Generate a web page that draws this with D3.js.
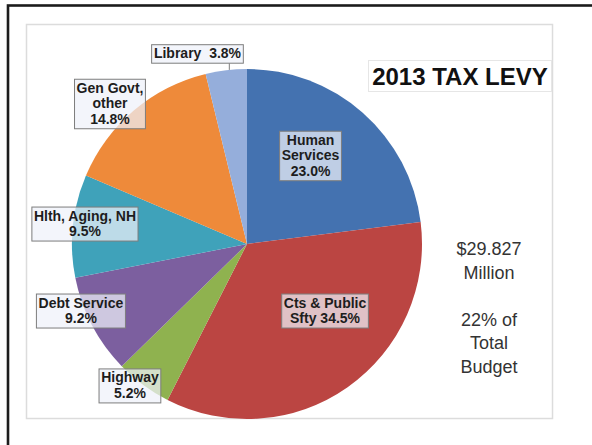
<!DOCTYPE html>
<html>
<head>
<meta charset="utf-8">
<script src="https://cdn.jsdelivr.net/npm/d3@7"></script>
<style>
  html, body { margin: 0; padding: 0; background: #fff; }
  svg { display: block; }
  text { font-family: "Liberation Sans", Arial, sans-serif; }
</style>
</head>
<body>
<svg id="chart" width="592" height="445"></svg>
<script>
// Budget shares of the 2013 tax levy, clockwise from 12 o'clock
const categories = ["Human Services", "Cts & Public Sfty", "Highway", "Debt Service",
                    "Hlth, Aging, NH", "Gen Govt, other", "Library"];
const shares = [23.0, 34.5, 5.2, 9.2, 9.5, 14.8, 3.8];
// Label text per slice; "{v}" is replaced by the formatted share
const labelLines = [
  ["Human", "Services", "{v}"],
  ["Cts & Public", "Sfty {v}"],
  ["Highway", "{v}"],
  ["Debt Service", "{v}"],
  ["Hlth, Aging, NH", "{v}"],
  ["Gen Govt,", "other", "{v}"],
  ["Library  {v}"]
];
const sliceColors = ["#4472b0", "#bb4542", "#8fb24f", "#7c5f9f", "#3fa2ba", "#ee8a3a", "#95aedb"];
const titleText = "2013 TAX LEVY";
const noteLines = ["$29.827", "Million", "", "22% of", "Total", "Budget"];

// Label box centres, in units of the pie radius relative to its centre
const labelPlacement = [
  [0.363, -0.503], [0.446, 0.383], [-0.669, 0.811], [-0.949, 0.383],
  [-0.926, -0.114], [-0.783, -0.80], [-0.283, -1.086]
];
const leaderSlices = ["Library"];

const svg = d3.select("#chart");
const cx = 247, cy = 244, radius = 175;

// outer frame
svg.append("rect")
  .attr("x", 8).attr("y", 5.5).attr("width", 620).attr("height", 480)
  .attr("fill", "none").attr("stroke", "#1c1c1c").attr("stroke-width", 2.6);

// plot area
svg.append("rect")
  .attr("x", 26.5).attr("y", 24.5).attr("width", 526).attr("height", 394)
  .attr("fill", "#fff").attr("stroke", "#dcdcdc").attr("stroke-width", 1.5);

const data = categories.map((c, i) => ({ name: c, value: shares[i], color: sliceColors[i],
  lines: labelLines[i], place: labelPlacement[i] }));

const pie = d3.pie().sort(null).value(d => d.value);
const arc = d3.arc().innerRadius(0).outerRadius(radius);
const arcs = pie(data);

const g = svg.append("g").attr("transform", `translate(${cx},${cy})`);
g.selectAll("path.slice").data(arcs).join("path")
  .attr("class", "slice")
  .attr("d", arc)
  .attr("fill", d => d.data.color);

const fmt = d3.format(".1f");
const fontSize = 14, lineH = 15.5;

// data labels
arcs.forEach(a => {
  const d = a.data;
  const lx = d.place[0] * radius, ly = d.place[1] * radius;
  const lines = d.lines.map(s => s.replace("{v}", fmt(d.value) + "%"));
  const lg = g.append("g").attr("class", "label");
  const box = lg.append("rect");
  const txt = lg.append("text")
    .attr("text-anchor", "middle")
    .attr("font-size", fontSize).attr("font-weight", "bold")
    .attr("fill", "#1d1d1d")
    .attr("xml:space", "preserve")
    .style("white-space", "pre");
  const h = lines.length * lineH + 3;
  lines.forEach((s, i) => {
    txt.append("tspan")
      .attr("x", lx)
      .attr("y", ly - h / 2 + 1.5 + lineH * (i + 1) - 3.5)
      .text(s);
  });
  const w = txt.node().getBBox().width + 4;
  box.attr("x", lx - w / 2).attr("y", ly - h / 2).attr("width", w).attr("height", h)
    .attr("fill", "rgba(238,241,249,0.72)")
    .attr("stroke", "#7d7d7d").attr("stroke-width", 1);

  if (leaderSlices.includes(d.name)) {
    const x0 = lx + w / 2 - 14;
    const y1 = -Math.sqrt(radius * radius - x0 * x0);
    lg.insert("line", "rect")
      .attr("x1", x0).attr("x2", x0)
      .attr("y1", ly + h / 2).attr("y2", y1)
      .attr("stroke", "#7d7d7d").attr("stroke-width", 1);
  }
});

// title box
svg.append("rect")
  .attr("x", 368.5).attr("y", 60.5).attr("width", 183).attr("height", 31)
  .attr("fill", "#fff").attr("stroke", "#e6e6e6").attr("stroke-width", 1);
svg.append("text")
  .attr("x", 460).attr("y", 85)
  .attr("text-anchor", "middle")
  .attr("font-size", 24).attr("font-weight", "bold")
  .attr("fill", "#111")
  .text(titleText);

// side note
const note = svg.append("text")
  .attr("text-anchor", "middle")
  .attr("font-size", 18)
  .attr("fill", "#333");
noteLines.forEach((s, i) => {
  note.append("tspan").attr("x", 489).attr("y", 255 + i * 23.6).text(s);
});
</script>
</body>
</html>
